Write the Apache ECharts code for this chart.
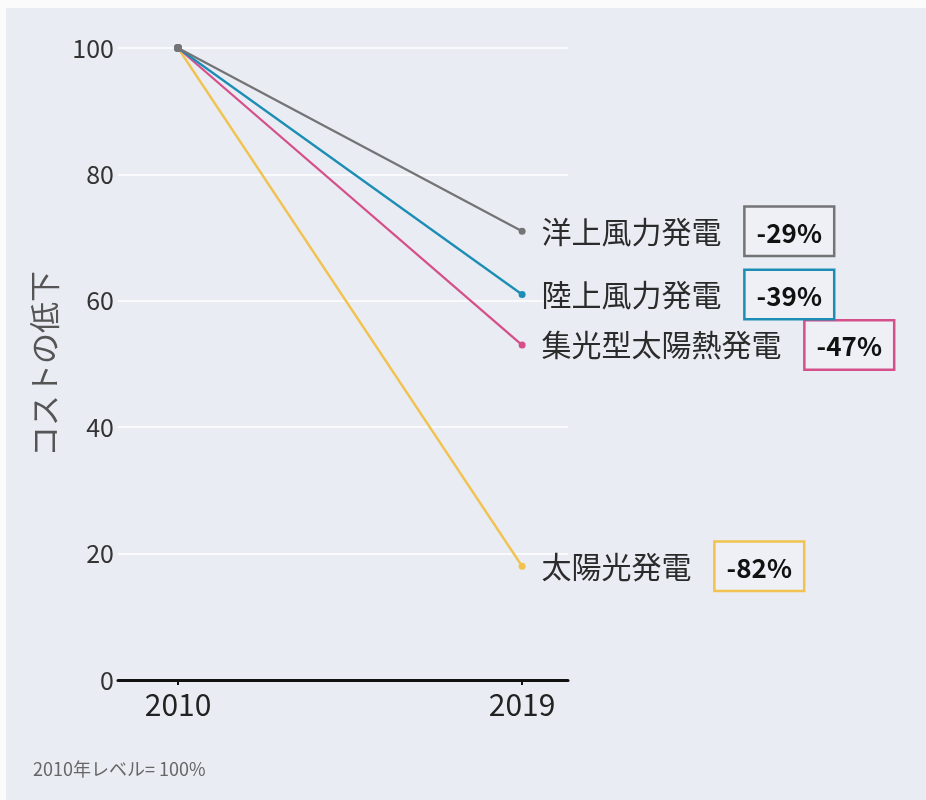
<!DOCTYPE html>
<html><head><meta charset="utf-8">
<script src="https://cdn.jsdelivr.net/npm/echarts@6/dist/echarts.min.js"></script>
<style>
html,body{margin:0;padding:0;background:#fbfbfc;}
#c{position:absolute;left:6px;top:8px;width:920px;height:792px;}
</style></head>
<body><div id="c"></div>
<script>
const years = [2010, 2019];
const seriesNames = ['太陽光発電', '集光型太陽熱発電', '陸上風力発電', '洋上風力発電'];
const solar = [100, 18];
const csp = [100, 53];
const onshore = [100, 61];
const offshore = [100, 71];
const changes = ['-82%', '-47%', '-39%', '-29%'];
const colors = ['#f1c24f', '#d5508a', '#1c8db5', '#737476'];

const values = [solar, csp, onshore, offshore];
const font = '"Noto Sans CJK JP", "Noto Sans", sans-serif';
const chart = echarts.init(document.getElementById('c'));
const series = values.map((v, i) => ({
  type: 'line',
  name: seriesNames[i],
  data: years.map((y, j) => [y, v[j]]),
  lineStyle: { color: colors[i], width: 2.3 },
  itemStyle: { color: colors[i] },
  symbol: 'circle',
  symbolSize: (val, p) => p.dataIndex === 0 ? 8 : 7,
  z: 2 + i,
  label: {
    show: true,
    position: 'right',
    distance: 16,
    formatter: p => p.dataIndex === 1 ? '{n|' + seriesNames[i] + '}{b|' + changes[i] + '}' : '',
    rich: {
      n: { fontSize: 30, color: '#2b2b2b', fontFamily: font, padding: [0, 24, 0, 0] },
      b: { fontSize: 26, fontWeight: 'bold', color: '#111', fontFamily: font,
           borderColor: colors[i], borderWidth: 2.5, padding: [12, 11, 9, 11], backgroundColor: '#eef0f5' }
    }
  },
  emphasis: { disabled: true }
}));
chart.setOption({
  backgroundColor: '#e9ecf2',
  animation: false,
  grid: { left: 112, right: 358, top: 40, bottom: 120 },
  xAxis: {
    type: 'value', min: 2008.43, max: 2020.2,
    splitLine: { show: false },
    axisLine: { show: true, lineStyle: { color: '#111', width: 3 } },
    axisTick: { show: true, customValues: years, length: 5, inside: false, lineStyle: { color: '#111', width: 2 } },
    axisLabel: { customValues: years, fontSize: 30, color: '#222', margin: 10, fontFamily: font, formatter: v => String(v) }
  },
  yAxis: {
    type: 'value', min: 0, max: 100, interval: 20,
    name: 'コストの低下', nameLocation: 'middle', nameGap: 58, nameRotate: 90,
    nameTextStyle: { fontSize: 31, color: '#555', fontFamily: font },
    axisLine: { show: false }, axisTick: { show: false },
    axisLabel: { fontSize: 25, color: '#333', margin: 4, fontFamily: font },
    splitLine: { lineStyle: { color: '#ffffff', width: 1.5 } }
  },
  graphic: [{
    type: 'text', left: 27, top: 752,
    style: { text: '2010年レベル= 100%', fontSize: 18, fill: '#666', fontFamily: font }
  }],
  series: series
});
</script></body></html>
